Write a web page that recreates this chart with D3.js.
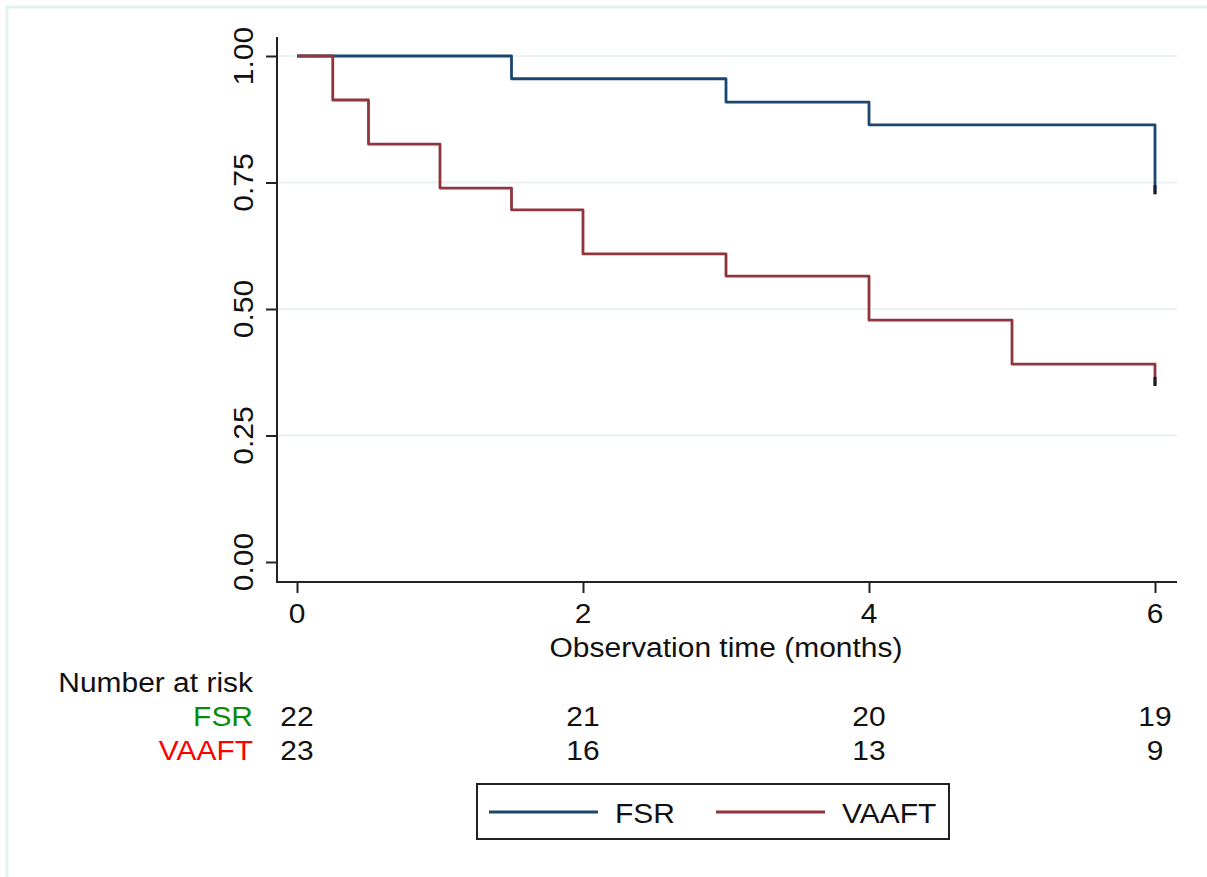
<!DOCTYPE html>
<html lang="en">
<head>
    <meta charset="UTF-8">
    <title>Kaplan-Meier</title>
    <script src="https://cdnjs.cloudflare.com/ajax/libs/d3/7.8.5/d3.min.js"></script>
    <style>
        body { margin: 0; background: #fff; }
        svg text { font-family: "Liberation Sans", Arial, Helvetica, sans-serif; font-size: 28px; fill: #111; }
    </style>
</head>
<body>
<svg id="chart" width="1207" height="877"></svg>

<script>
    // survival estimates
    const fsrTimes = [0, 1.5, 3, 4, 6];
    const fsrSurv = [1, 0.955, 0.909, 0.864, 0.727];
    const vaaftTimes = [0, 0.25, 0.5, 1, 1.5, 2, 3, 4, 5, 6];
    const vaaftSurv = [1, 0.913, 0.826, 0.739, 0.696, 0.609, 0.565, 0.478, 0.391, 0.348];
    const censorTime = 6;

    // number at risk table
    const riskTimes = [0, 2, 4, 6];
    const fsrRisk = [22, 21, 20, 19];
    const vaaftRisk = [23, 16, 13, 9];

    const xTicks = [0, 2, 4, 6];
    const yTicks = [0, 0.25, 0.5, 0.75, 1];
    const groups = ["FSR", "VAAFT"];

    const navy = "#1a476f", maroon = "#90353b";
    const SX = 1.07; // text in the original is a little wider than Liberation Sans
    const svg = d3.select("#chart");

    // text helper: places a label at (x, y) slightly widened
    function label(parent, x, y, str, anchor = "start", color = null, rot = 0) {
        const t = parent.append("text")
            .attr("transform", `translate(${x},${y})` + (rot ? ` rotate(${rot})` : "") + ` scale(${SX},1)`)
            .attr("text-anchor", anchor)
            .text(str);
        if (color) t.style("fill", color);
        return t;
    }

    // faint outer frame
    svg.append("rect")
        .attr("x", 7).attr("y", 7)
        .attr("width", 1220).attr("height", 890)
        .attr("fill", "none")
        .attr("stroke", "#e6eff1")
        .attr("stroke-width", 3);

    const x = d3.scaleLinear().domain([0, 6]).range([297, 1155]);
    const y = d3.scaleLinear().domain([0, 1]).range([562, 56]);
    const plotL = 277, plotR = 1177, plotT = 37, plotB = 582;

    // grid
    svg.append("g")
        .selectAll("line")
        .data(yTicks.filter(d => d > 0))
        .join("line")
        .attr("x1", plotL).attr("x2", plotR)
        .attr("y1", d => y(d)).attr("y2", d => y(d))
        .attr("stroke", "#eaf2f3")
        .attr("stroke-width", 2);

    // axes
    const yAxis = svg.append("g")
        .attr("transform", `translate(${plotL},0)`)
        .call(d3.axisLeft(y).tickValues(yTicks).tickSize(11).tickFormat(""));
    const xAxis = svg.append("g")
        .attr("transform", `translate(0,${plotB})`)
        .call(d3.axisBottom(x).tickValues(xTicks).tickSize(11).tickFormat(""));
    [xAxis, yAxis].forEach(a => {
        a.select(".domain").remove();
        a.selectAll(".tick line").attr("stroke", "#222").attr("stroke-width", 2);
    });
    svg.append("path")
        .attr("d", `M${plotL},${plotT}V${plotB}H${plotR}`)
        .attr("fill", "none")
        .attr("stroke", "#222")
        .attr("stroke-width", 2);

    // tick labels
    const tickLabels = svg.append("g");
    yTicks.forEach(d => label(tickLabels, 253, y(d), d3.format(".2f")(d), "middle", null, -90));
    xTicks.forEach(d => label(tickLabels, x(d), 623, d, "middle"));

    label(svg, 726, 657, "Observation time (months)", "middle");

    // curves
    const line = d3.line()
        .x(d => x(d[0]))
        .y(d => y(d[1]))
        .curve(d3.curveStepAfter);

    const curves = [
        { pts: d3.zip(fsrTimes, fsrSurv), color: navy },
        { pts: d3.zip(vaaftTimes, vaaftSurv), color: maroon }
    ];

    svg.append("g")
        .selectAll("path")
        .data(curves)
        .join("path")
        .attr("d", d => line(d.pts))
        .attr("fill", "none")
        .attr("stroke", d => d.color)
        .attr("stroke-width", 2.8)
        .attr("stroke-linejoin", "round");

    // censor ticks at end of follow-up
    svg.append("g")
        .selectAll("line")
        .data([fsrSurv[fsrSurv.length - 1], vaaftSurv[vaaftSurv.length - 1]])
        .join("line")
        .attr("x1", x(censorTime)).attr("x2", x(censorTime))
        .attr("y1", d => y(d)).attr("y2", d => y(d) - 9)
        .attr("stroke", "#1b1b24")
        .attr("stroke-width", 3);

    // number at risk
    label(svg, 253, 692, "Number at risk", "end");

    const riskRows = [
        { name: groups[0], vals: fsrRisk, color: "#0a8a0a", yy: 726 },
        { name: groups[1], vals: vaaftRisk, color: "#ff0000", yy: 760 }
    ];
    riskRows.forEach(r => {
        label(svg, 253, r.yy, r.name, "end", r.color);
        const row = svg.append("g");
        r.vals.forEach((v, i) => label(row, x(riskTimes[i]), r.yy, v, "middle"));
    });

    // legend
    const legend = svg.append("g");
    legend.append("rect")
        .attr("x", 477).attr("y", 784)
        .attr("width", 472).attr("height", 55)
        .attr("fill", "none")
        .attr("stroke", "#222")
        .attr("stroke-width", 2);
    const legItems = [
        { name: groups[0], color: navy, x0: 489 },
        { name: groups[1], color: maroon, x0: 716 }
    ];
    legItems.forEach(it => {
        legend.append("line")
            .attr("x1", it.x0).attr("x2", it.x0 + 109)
            .attr("y1", 812).attr("y2", 812)
            .attr("stroke", it.color)
            .attr("stroke-width", 2.8);
        label(legend, it.x0 + 126, 823, it.name);
    });
</script>
</body>
</html>
